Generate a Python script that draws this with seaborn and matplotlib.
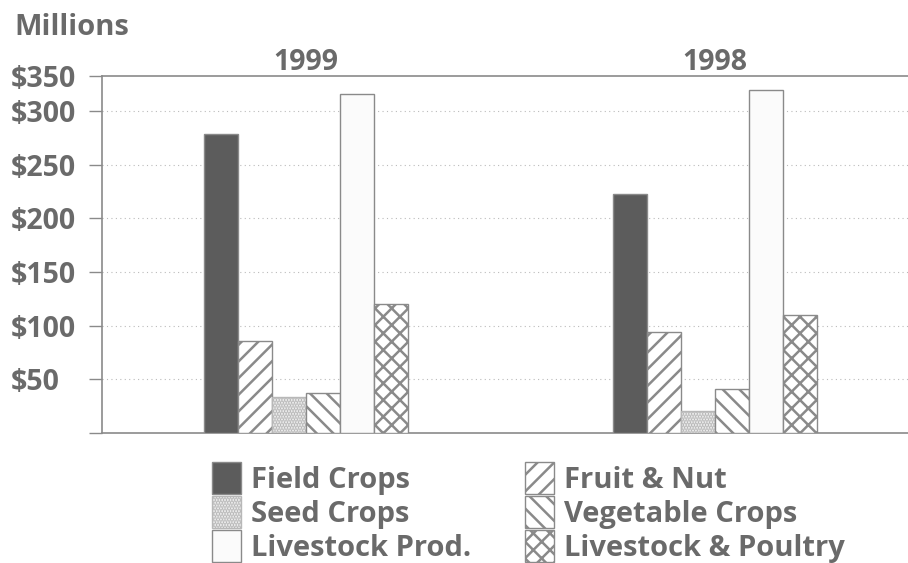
import matplotlib
matplotlib.use("Agg")
import matplotlib.pyplot as plt
from matplotlib.patches import Patch
import seaborn as sns
import pandas as pd

years = ["1999", "1998"]
categories = ["Field Crops", "Fruit & Nut", "Seed Crops", "Vegetable Crops",
              "Livestock Prod.", "Livestock & Poultry"]
values_1999 = [279, 86, 33, 37, 316, 120]
values_1998 = [223, 94, 20, 41, 320, 110]
ytick_vals = [0, 50, 100, 150, 200, 250, 300]
ytick_labels = ["", "$50", "$100", "$150", "$200", "$250", "$300"]
top_label = "$350"
y_top = 333

TXT = "#6a6a6a"
EDGE = "#8a8a8a"
styles = {
    "Field Crops": dict(fc="#5c5c5c", ec=EDGE, hatch=None),
    "Fruit & Nut": dict(fc="white", ec=EDGE, hatch="//"),
    "Seed Crops": dict(fc="#f6f6f6", ec="#b8b8b8", hatch="......"),
    "Vegetable Crops": dict(fc="white", ec=EDGE, hatch="\\\\"),
    "Livestock Prod.": dict(fc="#fbfbfb", ec=EDGE, hatch=None),
    "Livestock & Poultry": dict(fc="white", ec=EDGE, hatch="xx"),
}

sns.set_style("white")
plt.rcParams["font.family"] = ["Open Sans", "DejaVu Sans"]
plt.rcParams["font.weight"] = "bold"
plt.rcParams["hatch.linewidth"] = 1.8

rows = []
for y, vals in zip(years, [values_1999, values_1998]):
    for c, v in zip(categories, vals):
        rows.append({"year": y, "category": c, "value": v})
df = pd.DataFrame(rows)

fig = plt.figure(figsize=(9.08, 5.63), dpi=100)
ax = fig.add_axes([0.112, 0.2314, 0.888, 0.634])

sns.barplot(data=df, x="year", y="value", hue="category", order=years,
            hue_order=categories, width=0.5, ax=ax, legend=False,
            edgecolor=EDGE, linewidth=1.0, zorder=3)

for cont, cat in zip(ax.containers, categories):
    st = styles[cat]
    for bar in cont:
        bar.set_facecolor(st["fc"])
        bar.set_edgecolor(st["ec"])
        if st["hatch"]:
            bar.set_hatch(st["hatch"])

ax.set_xlim(-0.5, -0.5 + (908 - 101.7) / 409)
ax.set_ylim(0, y_top)
ax.set_yticks(ytick_vals + [y_top])
ax.set_yticklabels(ytick_labels + [top_label])
ax.yaxis.get_major_ticks()[-1].tick1line.set_visible(False)
for lab in ax.get_yticklabels():
    lab.set_horizontalalignment("left")
ax.tick_params(axis="y", length=9.4, width=1, color=EDGE, pad=56,
               labelsize=20.5, labelcolor=TXT, direction="out", left=True)
ax.xaxis.tick_top()
ax.tick_params(axis="x", length=0, pad=-1, labelsize=20.5, labelcolor=TXT)
ax.set_xlabel("")
ax.set_ylabel("")

for y in ytick_vals[1:]:
    ax.axhline(y, color="#bbbbbb", linestyle=(0, (1, 3)), linewidth=0.8, zorder=1)

for s in ["left", "top", "bottom"]:
    ax.spines[s].set_visible(True)
    ax.spines[s].set_color(EDGE)
    ax.spines[s].set_linewidth(1.2)
ax.spines["right"].set_visible(False)

fig.text(0.016, 0.952, "Millions", fontsize=21, color=TXT, fontweight="bold",
         va="center", ha="left")

col1 = ["Field Crops", "Seed Crops", "Livestock Prod."]
col2 = ["Fruit & Nut", "Vegetable Crops", "Livestock & Poultry"]
for names, xpos in [(col1, 212 / 908), (col2, 525 / 908)]:
    handles = [Patch(facecolor=styles[c]["fc"], edgecolor=styles[c]["ec"],
                     hatch=styles[c]["hatch"], linewidth=1.0) for c in names]
    leg = fig.legend(handles, names, loc="upper left",
                     bbox_to_anchor=(xpos, 1 - 462 / 563), ncol=1, frameon=False,
                     fontsize=21, handlelength=1.0, handleheight=1.3,
                     handletextpad=0.35, labelspacing=0.05,
                     borderpad=0, borderaxespad=0)
    for t in leg.get_texts():
        t.set_color(TXT)

fig.savefig("out.png", dpi=100)
